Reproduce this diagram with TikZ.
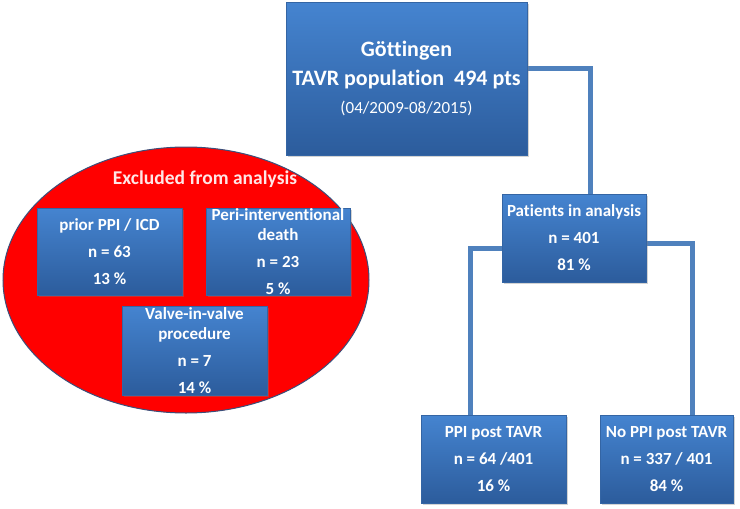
\documentclass[tikz,border=0pt]{standalone}
\usepackage{fontspec}
\setmainfont[Ligatures=NoCommon]{Carlito}
\usetikzlibrary{shapes.geometric,shadows,backgrounds}
\definecolor{boxtop}{HTML}{4584D0}
\definecolor{boxbot}{HTML}{2C5C9C}
\definecolor{boxline}{HTML}{3465A4}
\definecolor{conn}{HTML}{4F81BD}
\definecolor{ellline}{HTML}{3B4F7A}
\definecolor{titlecol}{HTML}{FFE6E6}
\tikzset{
  bluebox/.style={rectangle, top color=boxtop, bottom color=boxbot, draw=boxline, line width=0.4pt,
    text=white, align=center, inner sep=0pt,
    drop shadow={opacity=0.35, shadow xshift=1.5pt, shadow yshift=-2pt},
    font=\bfseries\fontsize{17}{20}\selectfont},
  connector/.style={draw=conn, line width=5pt},
}
\begin{document}
\begin{tikzpicture}[x=1pt,y=-1pt]
\useasboundingbox (0,0) rectangle (740,509);
\node[ellipse, fill=red, draw=ellline, line width=1pt, minimum width=366pt, minimum height=266pt, inner sep=0pt] (excl) at (186,280) {};
\node[text=titlecol, font=\bfseries\fontsize{19.5}{22}\selectfont] (extitle) at (205,179) {Excluded from analysis};
\node[bluebox, minimum width=241pt, minimum height=153pt] (top) at (406.5,78.5)
  {\fontsize{22}{26}\selectfont Göttingen\\[9pt]
   \fontsize{22}{26}\selectfont TAVR population\ \ 494 pts\\[8pt]
   \mdseries\fontsize{17}{20}\selectfont (04/2009-08/2015)};
\node[bluebox, minimum width=144pt, minimum height=88pt] (pat) at (574,238)
  {Patients in analysis\\[7pt] n = 401\\[7pt] 81 \%};
\node[bluebox, minimum width=145pt, minimum height=88pt] (ppi) at (493.5,459)
  {PPI post\ TAVR\\[7pt] n = 64 /401\\[7pt] 16 \%};
\node[bluebox, minimum width=133pt, minimum height=88pt] (noppi) at (666.5,459)
  {No PPI post\ TAVR\\[7pt] n = 337 / 401\\[7pt] 84 \%};
\node[bluebox, minimum width=145pt, minimum height=87pt] (prior) at (109.5,251.5)
  {prior\ PPI / ICD\\[7pt] n = 63\\[7pt] 13 \%};
\node[bluebox, minimum width=144pt, minimum height=87pt] (peri) at (278,251.5)
  {Peri-interventional\\ death\\[7pt] n = 23\\[7pt] 5 \%};
\node[bluebox, minimum width=145pt, minimum height=89pt] (valve) at (194.5,350.5)
  {Valve-in-valve\\ procedure\\[7pt] n = 7\\[7pt] 14 \%};
\begin{pgfonlayer}{background}
\draw[connector] ([yshift=10pt]top.east) -| ([xshift=16pt]pat.north);
\draw[connector] ([yshift=-10pt]pat.west) -| ([xshift=-23.5pt]ppi.north);
\draw[connector] ([yshift=-5pt]pat.east) -| ([xshift=25.5pt]noppi.north);
\end{pgfonlayer}
\end{tikzpicture}
\end{document}
